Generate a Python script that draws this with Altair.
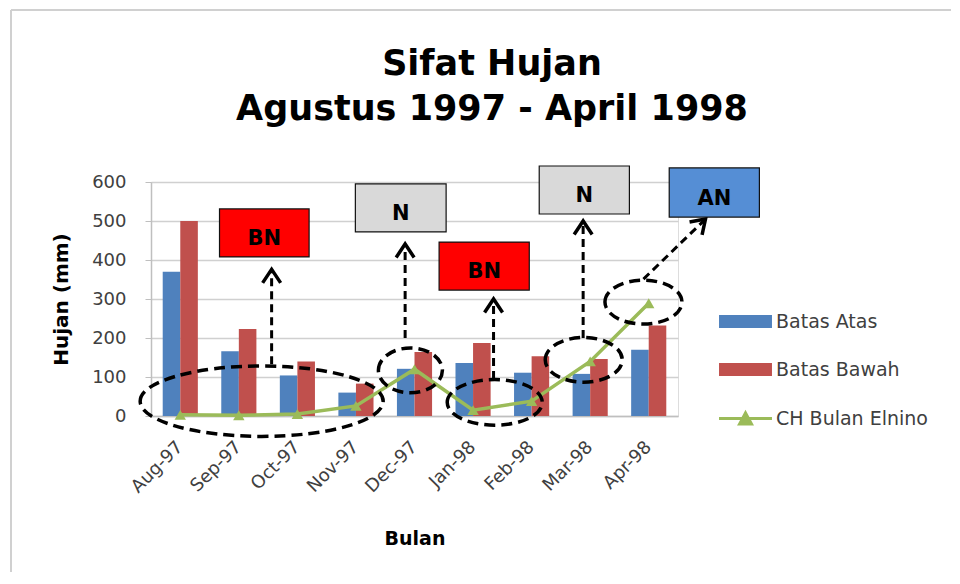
import altair as alt
import pandas as pd

# ---------------- data ----------------
title_lines = ["Sifat Hujan", "Agustus 1997 - April 1998"]
months = ["Aug-97", "Sep-97", "Oct-97", "Nov-97", "Dec-97",
          "Jan-98", "Feb-98", "Mar-98", "Apr-98"]
series_names = ["Batas Atas", "Batas Bawah", "CH Bulan Elnino"]
batas_atas = [370, 166, 104, 60, 121, 136, 111, 108, 170]
batas_bawah = [500, 223, 140, 83, 164, 187, 153, 146, 232]
ch_elnino = [3, 2, 5, 26, 120, 15, 38, 140, 289]
y_ticks = [0, 100, 200, 300, 400, 500, 600]

# annotation boxes (x in month index units, y in mm)
box_labels = ["BN", "N", "BN", "N", "AN"]
box_x0 = [0.67, 2.99, 4.42, 6.13, 8.35]
box_x1 = [2.20, 4.54, 5.96, 7.67, 9.89]
box_y0 = [408, 472, 323, 518, 510]
box_y1 = [531, 595, 446, 641, 636]
box_fill = ["#FF0000", "#D9D9D9", "#FF0000", "#D9D9D9", "#558ED5"]

# dashed ellipses (centre in index / mm, width in px, height/width ratio)
ell_x = [1.39, 3.93, 5.37, 6.89, 7.91]
ell_y = [38, 117, 35, 144, 292]
ell_w = [243, 64, 95, 77, 77]
ell_r = [0.29, 0.70, 0.48, 0.58, 0.57]

# dashed arrows (start -> tip)
arr_x0 = [1.56, 3.84, 5.35, 6.88, 7.91]
arr_x1 = [1.56, 3.84, 5.35, 6.88, 8.97]
arr_y0 = [133, 200, 95, 200, 351]
arr_y1 = [376, 441, 300, 500, 505]
arr_angle = [0, 0, 0, 0, 46]

FONT = "DejaVu Sans"
COLORS = ["#4F81BD", "#C0504D", "#9BBB59"]
YT = "Hujan (mm)"

# ---------------- tables ----------------
bars_df = pd.DataFrame({
    "month": months * 2,
    "series": [series_names[0]] * len(months) + [series_names[1]] * len(months),
    "value": batas_atas + batas_bawah,
})
line_df = pd.DataFrame({"month": months, "series": series_names[2], "value": ch_elnino})
box_df = pd.DataFrame({"label": box_labels, "x0": box_x0, "x1": box_x1,
                       "y0": box_y0, "y1": box_y1, "fill": box_fill})
box_df["xc"] = (box_df.x0 + box_df.x1) / 2
box_df["yc"] = (box_df.y0 + box_df.y1) / 2
ell_df = pd.DataFrame({"x": ell_x, "y": ell_y, "w": ell_w, "r": ell_r})
ell_df["size"] = ell_df.w ** 2
ell_df["path"] = ell_df.r.map(lambda r: f"M-1,0A1,{r},0,1,1,1,0A1,{r},0,1,1,-1,0Z")
arr_df = pd.DataFrame({"x0": arr_x0, "x1": arr_x1, "y0": arr_y0, "y1": arr_y1, "angle": arr_angle})

y_scale = alt.Scale(domain=[0, 600], nice=False)
xq = alt.Scale(domain=[-0.5, 8.5], nice=False, zero=False)
Y_AXIS = alt.Axis(values=y_ticks, labelFont=FONT, labelFontSize=18, labelColor="#404040",
                  tickSize=6, tickColor="#BFBFBF", domainColor="#BFBFBF", domainWidth=1.5,
                  gridColor="#D0D0D0", gridWidth=1.5, labelPadding=19,
                  titleFont=FONT, titleFontSize=20, titleFontWeight="bold",
                  titleColor="black", titlePadding=20)


def Y(field):
    return alt.Y(field, scale=y_scale, title=YT, axis=Y_AXIS)


LINE_SYM = "M-3.31,0H3.31M-0.75,0.7L0,-0.7L0.75,0.7Z"
BAR_SYM = "M-3.31,-0.8H3.31V0.8H-3.31Z"
legend_common = dict(
    title=None, orient="none", symbolSize=256, symbolOffset=18, labelOffset=21,
    rowPadding=28, labelFont=FONT, labelFontSize=19, labelColor="#404040",
    symbolOpacity=1,
)
bar_legend = alt.Legend(legendX=567, legendY=130, symbolType=BAR_SYM,
                        symbolStrokeWidth=0, **legend_common)
line_legend = alt.Legend(legendX=567, legendY=227, symbolType=LINE_SYM,
                         symbolStrokeWidth=3, symbolFillColor=COLORS[2],
                         symbolStrokeColor=COLORS[2], **legend_common)

bars = alt.Chart(bars_df).mark_bar().encode(
    x=alt.X("month:N", sort=months,
            scale=alt.Scale(paddingInner=0.4, paddingOuter=0.2),
            axis=alt.Axis(title="Bulan", labelAngle=-45, labelAlign="right",
                          labelBaseline="middle", labelFont=FONT, labelFontSize=18,
                          labelColor="#404040", ticks=False, labelPadding=28,
                          domainColor="#BFBFBF", domainWidth=1.5, grid=False,
                          titleFont=FONT, titleFontSize=19, titleFontWeight="bold",
                          titleColor="black", titlePadding=33)),
    xOffset=alt.XOffset("series:N", sort=series_names[:2]),
    y=Y("value:Q"),
    fill=alt.Fill("series:N", scale=alt.Scale(domain=series_names[:2], range=COLORS[:2]),
                  legend=bar_legend),
)

line = alt.Chart(line_df).mark_line(strokeWidth=3.5).encode(
    x=alt.X("month:N", sort=months),
    y=Y("value:Q"),
    stroke=alt.Stroke("series:N", scale=alt.Scale(domain=series_names[2:], range=COLORS[2:]),
                      legend=line_legend),
)
tri = alt.Chart(line_df).mark_point(shape="triangle-up", size=130, filled=True,
                                    color=COLORS[2], opacity=1).encode(
    x=alt.X("month:N", sort=months),
    y=Y("value:Q"),
)

main = alt.layer(bars, line, tri)

one = alt.Chart(pd.DataFrame({"k": [0]}))
frame_top = one.mark_rule(color="#D0D0D0", strokeWidth=2).encode(
    x=alt.value(-140), x2=alt.value(800), y=alt.value(-172))
frame_left = one.mark_rule(color="#D0D0D0", strokeWidth=2).encode(
    x=alt.value(-140), y=alt.value(-172), y2=alt.value(390))

title_marks = [
    alt.Chart(pd.DataFrame({"text": [t]})).mark_text(
        font=FONT, fontSize=35, fontWeight="bold", color="black",
        baseline="alphabetic", align="center",
    ).encode(x=alt.value(341), y=alt.value(yy), text="text:N")
    for t, yy in zip(title_lines, [-107, -62])
]

ellipses = alt.Chart(ell_df).mark_point(
    filled=False, color="black", strokeWidth=3.5, strokeDash=[11, 6], opacity=1
).encode(
    x=alt.X("x:Q", scale=xq, axis=None),
    y=Y("y:Q"),
    shape=alt.Shape("path:N", scale=None),
    size=alt.Size("size:Q", scale=None),
)

shafts = alt.Chart(arr_df).mark_rule(color="black", strokeWidth=3, strokeDash=[8, 5]).encode(
    x=alt.X("x0:Q", scale=xq, axis=None), x2="x1:Q",
    y=Y("y0:Q"), y2="y1:Q",
)

heads = alt.Chart(arr_df).mark_point(
    filled=False, color="black", strokeWidth=3.5, opacity=1, size=324,
    shape="M-1,1.5L0,0L1,1.5",
).encode(
    x=alt.X("x1:Q", scale=xq, axis=None),
    y=Y("y1:Q"),
    angle=alt.Angle("angle:Q", scale=None),
)

boxes = alt.Chart(box_df).mark_rect(stroke="#111111", strokeWidth=1.2).encode(
    x=alt.X("x0:Q", scale=xq, axis=None), x2="x1:Q",
    y=Y("y0:Q"), y2="y1:Q",
    color=alt.Color("fill:N", scale=None),
)

texts = alt.Chart(box_df).mark_text(
    font=FONT, fontSize=21, fontWeight="bold", color="black", baseline="middle", dy=6
).encode(
    x=alt.X("xc:Q", scale=xq, axis=None),
    y=Y("yc:Q"),
    text="label:N",
)

chart = alt.layer(
    frame_top, frame_left, *title_marks, main, ellipses, shafts, heads, boxes, texts
).resolve_scale(x="independent").properties(
    width=527, height=234,
    padding={"left": 2, "top": 1, "right": 0, "bottom": 0},
).configure_view(stroke=None).configure(background="white")

chart.save("out.html", embed_options={"renderer": "svg", "actions": False})
